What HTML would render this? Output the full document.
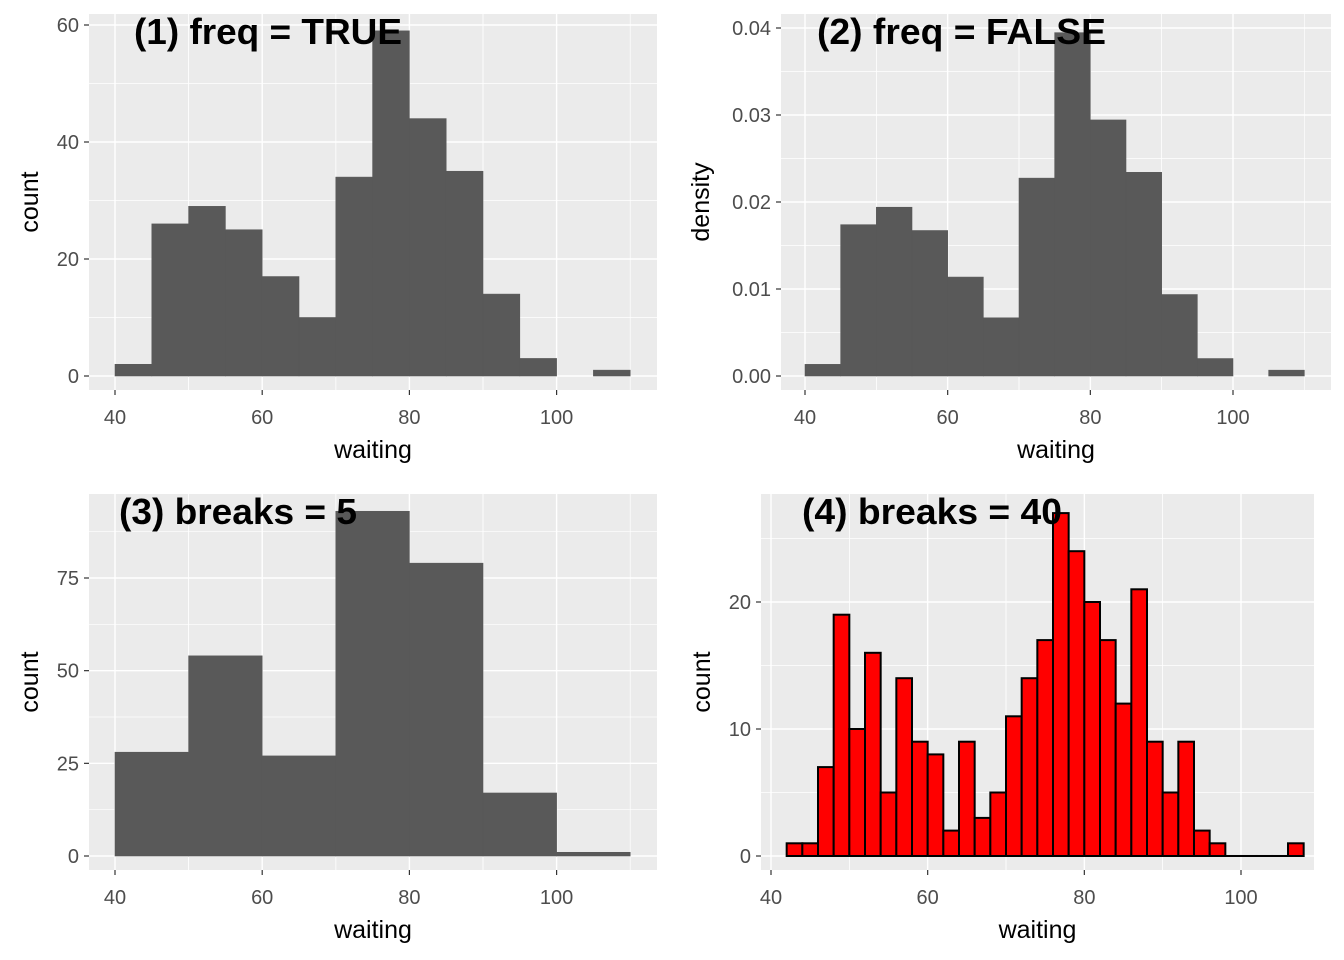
<!DOCTYPE html>
<html><head><meta charset="utf-8"><style>
body{margin:0;background:#fff}
svg{display:block;font-family:"Liberation Sans",Arial,sans-serif}
</style></head><body>
<svg id="c" width="1344" height="960" xmlns="http://www.w3.org/2000/svg"></svg>
<script>
const p1Counts=[2,26,29,25,17,10,34,59,44,35,14,3,0,1];
const p1Start=40, p1Width=5;
const p1Total=p1Counts.reduce((a,b)=>a+b,0);
const p2Density=p1Counts.map(c=>c/p1Total/5);
const p3Counts=[28,54,27,93,79,17,1];
const p3Start=40, p3Width=10;
const p4Counts=[1,1,7,19,10,16,5,14,9,8,2,9,3,5,11,14,17,27,24,20,17,12,21,9,5,9,2,1,0,0,0,0,1];
const p4Start=42, p4Width=2;
const xTicks=[40,60,80,100];
const yTicks1=[0,20,40,60];
const yTicks2=[0,0.01,0.02,0.03,0.04];
const yTicks3=[0,25,50,75];
const yTicks4=[0,10,20];
const NS="http://www.w3.org/2000/svg";
const svg=document.getElementById('c');
function mk(t,a,parent){const e=document.createElementNS(NS,t);for(const k in a)e.setAttribute(k,a[k]);(parent||svg).appendChild(e);return e;}
function panel(o){
  const g=mk('g',{});
  
  
  const X=v=>o.x0px+(v-o.x0)*o.xs, Y=v=>o.y0px-(v)*o.ys;
  const bg=mk('rect',{x:o.L,y:o.T,width:o.R-o.L,height:o.B-o.T,fill:'#ebebeb'},g);
  
  
  for(let i=0;i<o.xt.length;i++){const v=o.xt[i]-(o.xt[1]-o.xt[0])/2;[v,o.xt[i]+(o.xt[1]-o.xt[0])/2].forEach(m=>{const px=X(m);if(px>o.L&&px<o.R)mk('line',{x1:px,x2:px,y1:o.T,y2:o.B,stroke:'#fff','stroke-width':0.7},g);});}
  const yd=o.yt[1]-o.yt[0];
  for(let v=o.yt[0]-yd/2;v<o.yt[o.yt.length-1]+yd*2;v+=yd){const py=Y(v);if(py>o.T&&py<o.B)mk('line',{x1:o.L,x2:o.R,y1:py,y2:py,stroke:'#fff','stroke-width':0.7},g);}
  o.xt.forEach(v=>{const px=X(v);mk('line',{x1:px,x2:px,y1:o.T,y2:o.B,stroke:'#fff','stroke-width':1.4},g);
    mk('line',{x1:px,x2:px,y1:o.B,y2:o.B+5,stroke:'#333','stroke-width':1.2},g);
    const t=mk('text',{x:px,y:o.B+34,'text-anchor':'middle','font-size':20,fill:'#4d4d4d'},g);t.textContent=v;
    
    });
  o.yt.forEach(v=>{const py=Y(v);mk('line',{x1:o.L,x2:o.R,y1:py,y2:py,stroke:'#fff','stroke-width':1.4},g);
    mk('line',{x1:o.L-5,x2:o.L,y1:py,y2:py,stroke:'#333','stroke-width':1.2},g);
    const t=mk('text',{x:o.L-10,y:py+7,'text-anchor':'end','font-size':20,fill:'#4d4d4d'},g);t.textContent=o.fmt(v);
    
    });
  o.vals.forEach((v,i)=>{const a=X(o.start+i*o.w),b=X(o.start+(i+1)*o.w);
    let h=Y(0)-Y(v);
    if(h<=0){ if(!o.stroke) return; h=0.01; }
    const r=mk('rect',{x:a,y:Y(0)-h,width:b-a,height:h,fill:o.fill,stroke:o.stroke||o.fill,'stroke-width':o.stroke?2:0.6},g);
    
    });
  const xt=mk('text',{x:(o.L+o.R)/2,y:o.B+68,'text-anchor':'middle','font-size':25,fill:'#000'},g);xt.textContent='waiting';
  
  
  const yx=o.L-(o.ytx), yy=(o.T+o.B)/2;
  const yt=mk('text',{x:yx,y:yy,'text-anchor':'middle','font-size':25,fill:'#000',transform:`rotate(-90 ${yx} ${yy})`},g);yt.textContent=o.ylab;
  
  
  const tt=mk('text',{x:o.tx,y:o.T+30,'font-size':36,'font-weight':'bold',fill:'#000',textLength:o.tl,lengthAdjust:'spacingAndGlyphs'},g);tt.textContent=o.title;
  
  
}
panel({name:'panel-1-freq-true',L:89,R:657,T:14,B:390,x0:40,x0px:115,xs:7.36,y0px:376,ys:(376-25)/60,xt:xTicks,yt:yTicks1,fmt:v=>v,vals:p1Counts,start:p1Start,w:p1Width,fill:'#595959',ylab:'count',ytx:51,title:'(1) freq = TRUE',tx:134,tl:268});
panel({name:'panel-2-freq-false',L:781,R:1331,T:14,B:390,x0:40,x0px:805,xs:(1233-805)/60,y0px:376,ys:(376-28)/0.04,xt:xTicks,yt:yTicks2,fmt:v=>v.toFixed(2),vals:p2Density,start:p1Start,w:p1Width,fill:'#595959',ylab:'density',ytx:72,title:'(2) freq = FALSE',tx:817,tl:289});
panel({name:'panel-3-breaks-5',L:89,R:657,T:494,B:870,x0:40,x0px:115,xs:7.36,y0px:856,ys:(856-578)/75,xt:xTicks,yt:yTicks3,fmt:v=>v,vals:p3Counts,start:p3Start,w:p3Width,fill:'#595959',ylab:'count',ytx:51,title:'(3) breaks = 5',tx:119,tl:238});
panel({name:'panel-4-breaks-40',L:761,R:1314,T:494,B:870,x0:40,x0px:771,xs:(1241-771)/60,y0px:856,ys:(856-602)/20,xt:xTicks,yt:yTicks4,fmt:v=>v,vals:p4Counts,start:p4Start,w:p4Width,fill:'#ff0000',stroke:'#000',ylab:'count',ytx:51,title:'(4) breaks = 40',tx:802,tl:260});
</script>
</body></html>
